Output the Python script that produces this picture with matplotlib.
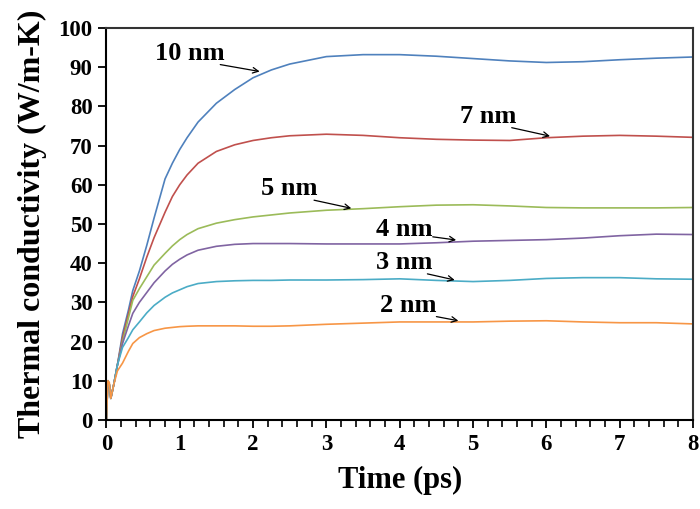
import numpy as np
from matplotlib import pyplot as plt
from matplotlib.ticker import MultipleLocator

plt.rcParams['font.family'] = ['Liberation Serif', 'DejaVu Serif']
plt.rcParams['font.weight'] = 'bold'

# time axis (ps), shared by all curves
t = [0, 0.02, 0.04, 0.06, 0.1, 0.15, 0.22, 0.3, 0.36, 0.45, 0.55, 0.65, 0.8,
     0.9, 1.0, 1.1, 1.25, 1.5, 1.75, 2.0, 2.25, 2.5, 3.0, 3.5, 4.0, 4.5, 5.0, 5.5, 6.0,
     6.5, 7.0, 7.5, 8.0]

k_10nm = [0, 10, 9, 5.5, 9, 14, 22, 28, 33, 38, 44.5, 51.5, 61.5,
          65.5, 69, 72, 76, 80.8, 84.3, 87.3, 89.3, 90.8, 92.7, 93.2, 93.2, 92.8, 92.2, 91.6, 91.2,
          91.4, 91.9, 92.3, 92.6]
k_7nm = [0, 10, 9, 5.5, 9, 14, 21, 27, 31.5, 36, 41.5, 46.5, 53,
         57, 60, 62.5, 65.5, 68.5, 70.2, 71.3, 72, 72.5, 72.9, 72.6, 72.0, 71.6, 71.4, 71.3, 72.0,
         72.4, 72.6, 72.4, 72.1]
k_5nm = [0, 10, 9, 5.5, 9, 14, 20, 26, 30.5, 33.5, 36.5, 39.5, 42.5,
         44.4, 46, 47.3, 48.8, 50.2, 51.1, 51.8, 52.3, 52.8, 53.5, 53.9, 54.4, 54.8, 54.9, 54.6, 54.2,
         54.1, 54.1, 54.1, 54.2]
k_4nm = [0, 10, 9, 5.5, 9, 14, 19.5, 24, 27.2, 30, 32.5, 35, 38,
         39.7, 41, 42.1, 43.3, 44.3, 44.8, 45, 45, 45, 44.9, 44.9, 44.9, 45.2, 45.6, 45.8, 46.0,
         46.4, 47.0, 47.4, 47.3]
k_3nm = [0, 10, 9, 5.5, 9, 14, 18.5, 21, 23, 25, 27.3, 29.2, 31.3,
         32.4, 33.2, 34, 34.8, 35.3, 35.5, 35.6, 35.6, 35.7, 35.7, 35.8, 36.0, 35.6, 35.3, 35.6, 36.1,
         36.3, 36.3, 36.0, 35.9]
k_2nm = [0, 10, 9.5, 5.5, 9, 12.5, 14.5, 17.5, 19.5, 21, 22, 22.8, 23.4,
         23.6, 23.8, 23.9, 24, 24, 24, 23.9, 23.9, 24, 24.4, 24.7, 25.0, 25.0, 25.0, 25.2, 25.3,
         25.0, 24.8, 24.8, 24.5]

series = [k_10nm, k_7nm, k_5nm, k_4nm, k_3nm, k_2nm]
colors = ['#4F81BD', '#C0504D', '#9BBB59', '#8064A2', '#4BACC6', '#F79646']

# label text, text position, arrow head position
labels = ['10 nm', '7 nm', '5 nm', '4 nm', '3 nm', '2 nm']
text_xy = [(0.66, 93.6), (4.82, 77.5), (2.11, 59.0), (3.68, 48.7), (3.68, 40.2), (3.73, 29.1)]
head_xy = [(2.09, 88.9), (6.05, 72.4), (3.34, 54.0), (4.77, 45.9), (4.75, 35.7), (4.80, 25.3)]

fig = plt.figure(figsize=(7, 5.09), dpi=100)
ax = fig.add_axes([0.152, 0.175, 0.838, 0.77])

for y, c in zip(series, colors):
    ax.plot(t, y, color=c, lw=1.2)

for lab, (tx, ty), (hx, hy) in zip(labels, text_xy, head_xy):
    txt = ax.text(tx, ty, lab, fontsize=19, fontweight='bold', ha='left', va='center')
    ax.annotate('', xy=(hx, hy), xytext=(tx, ty), textcoords='data',
                arrowprops=dict(arrowstyle='->', color='black', lw=0.9,
                                shrinkA=0, shrinkB=0,
                                patchA=txt))

ax.set_xlim(0, 8)
ax.set_ylim(0, 100)
ax.xaxis.set_major_locator(MultipleLocator(1))
ax.xaxis.set_minor_locator(MultipleLocator(0.2))
ax.yaxis.set_major_locator(MultipleLocator(10))
ax.tick_params(axis='both', which='major', direction='out', length=6, width=1.3,
               labelsize=16.5, pad=4)
ax.tick_params(axis='x', which='minor', direction='out', length=5, width=1.2)
for lbl in ax.get_xticklabels() + ax.get_yticklabels():
    lbl.set_fontweight('bold')

for s in ax.spines.values():
    s.set_linewidth(1.5)
    s.set_color('#333333')
ax.spines['left'].set_color('black')
ax.spines['bottom'].set_color('black')

ax.set_xlabel('Time (ps)', fontsize=22, fontweight='bold', labelpad=8)
ax.set_ylabel('Thermal conductivity (W/m-K)', fontsize=23, fontweight='bold', labelpad=8)

fig.savefig('out.png', dpi=100)
